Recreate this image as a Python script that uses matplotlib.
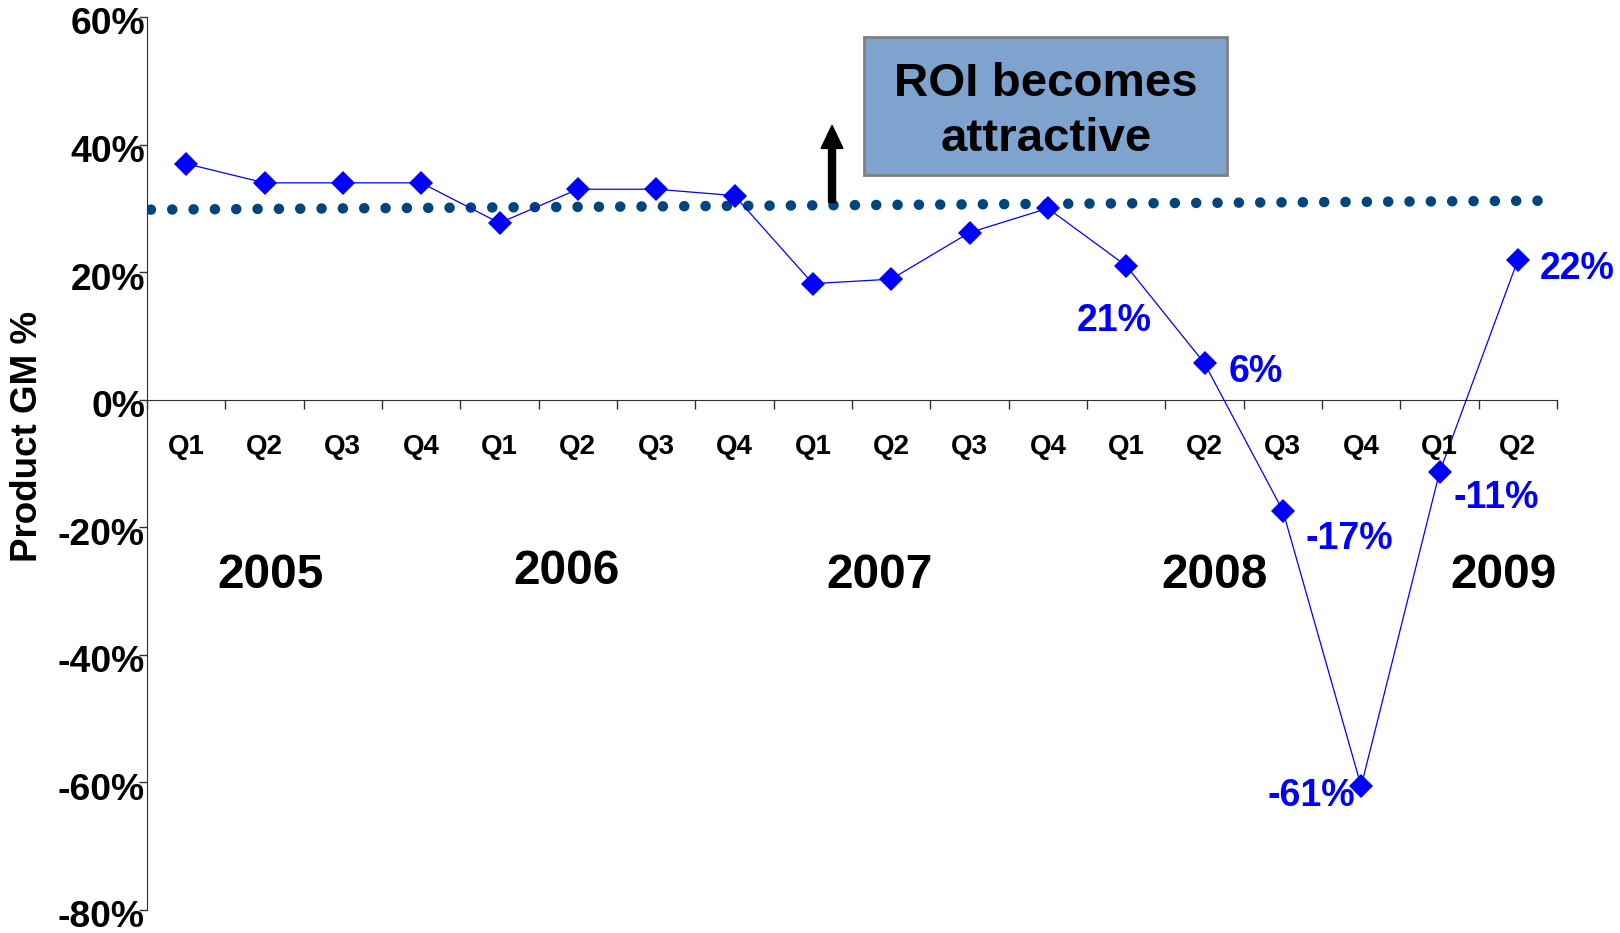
import matplotlib
matplotlib.use("Agg")
import matplotlib.pyplot as plt
import matplotlib.transforms as mtransforms
from matplotlib.patches import Rectangle

plt.rcParams['font.family'] = ['Liberation Sans', 'DejaVu Sans']
plt.rcParams['font.weight'] = 'bold'

# datos
quarters = ["Q1", "Q2", "Q3", "Q4"] * 4 + ["Q1", "Q2"]
gm = [37, 34, 34, 34, 27.7, 33, 33, 32, 18.2, 18.9, 26.2, 30,
      21, 5.7, -17.4, -60.6, -11.4, 21.9]
years = ["2005", "2006", "2007", "2008", "2009"]
year_x = [1.58, 5.35, 9.35, 13.63, 17.32]
year_y = [-29.5, -28.9, -29.5, -29.5, -29.5]
# etiquetas de datos (indice, desplazamiento en pixeles)
label_idx = [12, 13, 14, 15, 16, 17]
label_off = [(-12, -65), (51, -19), (66, -38), (-50, -20), (57, -36), (59, -19)]
# linea de umbral
thr_x = [0.05, 17.76]
thr_y = [29.8, 31.2]
yticks = [-80, -60, -40, -20, 0, 20, 40, 60]

fig = plt.figure(figsize=(16.2, 9.33), dpi=100)
ax = fig.add_axes([147 / 1620, 1 - 910 / 933, 1410 / 1620, 893 / 933])

x = [i + 0.5 for i in range(len(gm))]

# linea punteada
ax.plot(thr_x, thr_y, color="#00457E", linewidth=7.6,
        linestyle=(0, (0.001, 2.02)), dash_capstyle="round", zorder=2)

# serie principal
ax.plot(x, gm, color="#0000FF", linewidth=0.9, marker="D", markersize=12,
        markeredgewidth=0, zorder=3)

ax.set_xlim(0, 18)
ax.set_ylim(-80, 60)

ax.spines["top"].set_visible(False)
ax.spines["right"].set_visible(False)
ax.spines["bottom"].set_position(("data", 0))
ax.spines["bottom"].set_color("#303030")
ax.spines["left"].set_color("#303030")

ax.set_xticks(range(19))
ax.set_xticklabels([])
ax.tick_params(axis="x", direction="out", length=6.5, width=1, color="#303030")

ax.set_yticks(yticks)
ax.set_yticklabels([f"{t}%" for t in yticks], fontsize=26.8, fontweight="bold")
ax.tick_params(axis="y", direction="out", length=6, width=1, color="#303030", pad=-4.5)
offset = mtransforms.ScaledTranslation(0, -4 / 100, fig.dpi_scale_trans)
for lab in ax.get_yticklabels():
    lab.set_transform(lab.get_transform() + offset)

# etiquetas de trimestre
for xi, q in zip(x, quarters):
    ax.text(xi, -8.5, q, ha="center", va="baseline", fontsize=20, fontweight="bold")

# etiquetas de anio
for yx, yy, yr in zip(year_x, year_y, years):
    ax.text(yx, yy, yr, ha="center", va="baseline", fontsize=34.5, fontweight="bold")

# etiquetas de datos
for i, (dx, dy) in zip(label_idx, label_off):
    ax.annotate(f"{gm[i]:.0f}%", xy=(x[i], gm[i]), xytext=(dx, dy),
                textcoords="offset pixels", ha="center", va="baseline",
                fontsize=27, fontweight="bold", color="#0000FF")

# flecha y caja
ax.arrow(8.745, 30.9, 0, 12.1, width=0.089, head_width=0.28, head_length=3.6,
         length_includes_head=True, color="black", zorder=4)
ax.add_patch(Rectangle((9.15, 35.3), 4.64, 21.6, facecolor="#7FA3CF",
                       edgecolor="#808080", linewidth=2, zorder=4))
ax.text(11.48, 45.2, "ROI becomes\nattractive", ha="center", va="center",
        fontsize=34.2, fontweight="bold", color="black", linespacing=1.32, zorder=5)

fig.text(28 / 1620, 1 - 436 / 933, "Product GM %", rotation=90, ha="center",
         va="center", fontsize=26.5, fontweight="bold")

fig.savefig("out.png", dpi=100)
